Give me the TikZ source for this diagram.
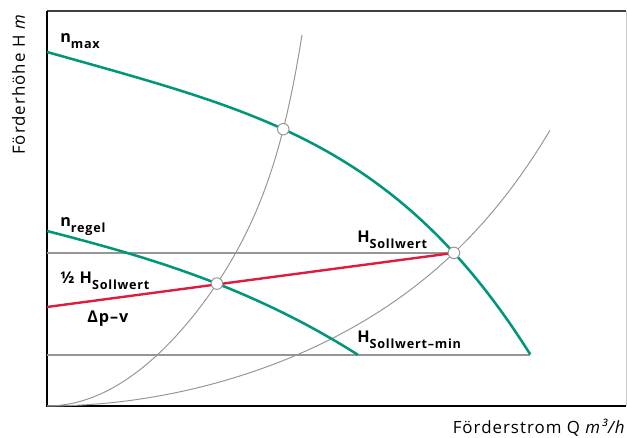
\documentclass[tikz,border=0pt]{standalone}
\usepackage{fontspec}
\setmainfont{Open Sans}[LetterSpace=6]
\usetikzlibrary{intersections}
\definecolor{pumpgreen}{RGB}{0,150,120}
\definecolor{setred}{RGB}{222,28,62}
\definecolor{linegray}{RGB}{150,150,150}
\newcommand{\lowsub}[1]{\raisebox{-4pt}{\fontsize{9}{9}\selectfont #1}}

\begin{document}
\begin{tikzpicture}[x=0.025cm,y=-0.025cm]
  \useasboundingbox (0,0) rectangle (627,438);

  % frame
  \draw[line width=1pt, black!75] (47,11) -- (626,11);
  \draw[line width=0.6pt, black!20] (626,11) -- (626,406);
  \draw[line width=1.1pt] (47,11) -- (47,406) -- (626,406);
  \coordinate (yax) at (47,406);

  % pipe curves
  \begin{scope}[linegray, line width=0.7pt]
    \draw[name path global=pipeA] plot[domain=47.05:302, samples=90]
      (\x,{406-42*((\x-47)/100)^2-(0.595*(\x-47)/100)^11});
    \draw[name path global=pipeB] plot[domain=47.05:550, samples=90]
      (\x,{406-8.009*((\x-47)/100)^2-(0.4065*(\x-47)/100)^6});
  \end{scope}

  % pump curves (paths only, drawn later)
  \path[name path=nmax] plot[domain=47.05:530.3, samples=90]
    (\x,{52+0.28*(\x-47)+0.42*((\x-47)/100)^3.8});
  \path[name path=nregel] plot[domain=47.05:358, samples=90]
    (\x,{231+0.26*(\x-47)+2.01*((\x-47)/100)^2.7});

  \path[name intersections={of=nregel and pipeA, by=a1}];
  \path[name intersections={of=nmax and pipeA, by=a2}];
  \path[name intersections={of=nmax and pipeB, by=a3}];
  \coordinate (nmaxend) at (530.3,355);

  % set values
  \begin{scope}[linegray, line width=1.4pt]
    \draw (yax |- a3) -- (a3);
    \draw (47,355) -- (nmaxend);
  \end{scope}
  \draw[setred, line width=1.7pt] (47,307) -- (a3);

  \begin{scope}[pumpgreen, line width=1.8pt]
    \draw plot[domain=47.05:530.3, samples=90]
      (\x,{52+0.28*(\x-47)+0.42*((\x-47)/100)^3.8});
    \draw plot[domain=47.05:358, samples=90]
      (\x,{231+0.26*(\x-47)+2.01*((\x-47)/100)^2.7});
  \end{scope}

  \begin{scope}[every node/.style={circle,draw=linegray,fill=white,line width=0.7pt,inner sep=0pt,minimum size=8.2pt}]
    \node (p1) at (a1) {};
    \node (p2) at (a2) {};
    \node (p3) at (a3) {};
  \end{scope}

  \begin{scope}[every node/.style={anchor=base west,inner sep=0pt,font=\bfseries\fontsize{11.5}{12}\selectfont}]
    \node (nmaxlab)   at (60,43)   {n\lowsub{max}};
    \node (nregellab) at (60,227)  {n\lowsub{regel}};
    \node (halflab)   at (60,284)  {½ H\lowsub{Sollwert}};
    \node (dpvlab)    at (87,323)  {Δp–v};
    \node (hsetlab)   at (357,243) {H\lowsub{Sollwert}};
    \node (hminlab)   at (357,343) {H\lowsub{Sollwert–min}};
  \end{scope}

  \node[rotate=90, anchor=base east, inner sep=0pt, font=\fontsize{12}{12}\selectfont] (ylab) at (25,14) {Förderhöhe H \textit{m}};
  \node[anchor=base east, inner sep=0pt, font=\fontsize{12}{12}\selectfont] (xlab) at (626,434) {Förderstrom Q \textit{m³/h}};
\end{tikzpicture}
\end{document}
